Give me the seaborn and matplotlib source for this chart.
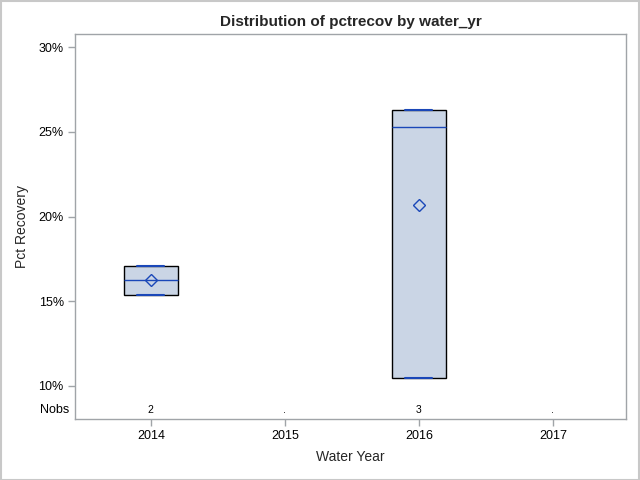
import numpy as np
import pandas as pd
import seaborn as sns
import matplotlib
matplotlib.use('Agg')
import matplotlib.pyplot as plt
from matplotlib.ticker import FuncFormatter
import matplotlib.transforms as mtransforms

years = [2014, 2015, 2016, 2017]
obs_year = [2014, 2014, 2016, 2016, 2016]
obs_pct = [15.4, 17.1, 10.5, 25.3, 26.3]

blue = '#1A47B8'
fill = '#CAD5E5'
frame = '#A0A4A8'

df = pd.DataFrame({'water_yr': obs_year, 'pctrecov': obs_pct})


def sas_pctl(vals, p):
    # percentile definition 5 (SAS default)
    x = np.sort(np.asarray(vals))
    n = len(x)
    np_ = n * p
    j = int(np.floor(np_))
    g = np_ - j
    if g == 0:
        return (x[j - 1] + x[j]) / 2
    return x[j]


sns.set_theme(style='white')
plt.rcParams['font.family'] = ['Liberation Sans', 'DejaVu Sans']

fig = plt.figure(figsize=(6.4, 4.8), dpi=100)
ax = fig.add_axes([0.117, 0.127, 0.861, 0.802])

stats = []
positions = []
for i, yr in enumerate(years):
    vals = df.loc[df['water_yr'] == yr, 'pctrecov']
    if len(vals) == 0:
        continue
    stats.append({'q1': sas_pctl(vals, 0.25), 'med': sas_pctl(vals, 0.5),
                  'q3': sas_pctl(vals, 0.75), 'whislo': vals.min(),
                  'whishi': vals.max(), 'fliers': []})
    positions.append(i)

ax.bxp(stats, positions=positions, widths=0.4, patch_artist=True,
       showfliers=False,
       boxprops=dict(facecolor=fill, edgecolor='black', linewidth=1),
       medianprops=dict(color=blue, linewidth=1),
       whiskerprops=dict(color=blue, linewidth=1),
       capprops=dict(color=blue, linewidth=1.5), capwidths=0.2)

sns.pointplot(data=df, x='water_yr', y='pctrecov', order=years,
              estimator='mean', errorbar=None, markers='D', linestyles='none',
              color=blue, markerfacecolor='none', markeredgewidth=1,
              markersize=6, ax=ax)

ax.set_xlim(-0.567, 3.545)
ax.set_ylim(8.05, 30.77)
ax.set_yticks([10, 15, 20, 25, 30])
ax.yaxis.set_major_formatter(FuncFormatter(lambda v, _: f'{v:.0f}%'))
ax.set_xticks(range(len(years)))
ax.set_xticklabels([str(y) for y in years])

for sp in ax.spines.values():
    sp.set_color(frame)
    sp.set_linewidth(1)
ax.tick_params(axis='both', which='both', length=5, width=1, color=frame,
               labelsize=9, labelcolor='black', pad=3, direction='out')
ax.tick_params(axis='both', left=True, bottom=True)

# Nobs row inside the axes
trans = mtransforms.blended_transform_factory(ax.transData, ax.transAxes)
for i, yr in enumerate(years):
    n = int((df['water_yr'] == yr).sum())
    ax.text(i, 0.023, str(n) if n > 0 else '.', transform=trans,
            ha='center', va='center', fontsize=7.5, color='black')
ax.text(-0.01, 0.023, 'Nobs', transform=ax.transAxes, ha='right',
        va='center', fontsize=9, color='black')

ax.set_xlabel('Water Year', fontsize=10, labelpad=6)
ax.set_ylabel('Pct Recovery', fontsize=10, labelpad=7)
ax.set_title('Distribution of pctrecov by water_yr', fontsize=11,
             fontweight='bold', pad=6)

fig.patches.append(plt.Rectangle((0.001, 0.001), 0.997, 0.997,
                                 transform=fig.transFigure, fill=False,
                                 edgecolor='#C8C8C8', linewidth=1.5))

fig.savefig('out.png', dpi=100)
